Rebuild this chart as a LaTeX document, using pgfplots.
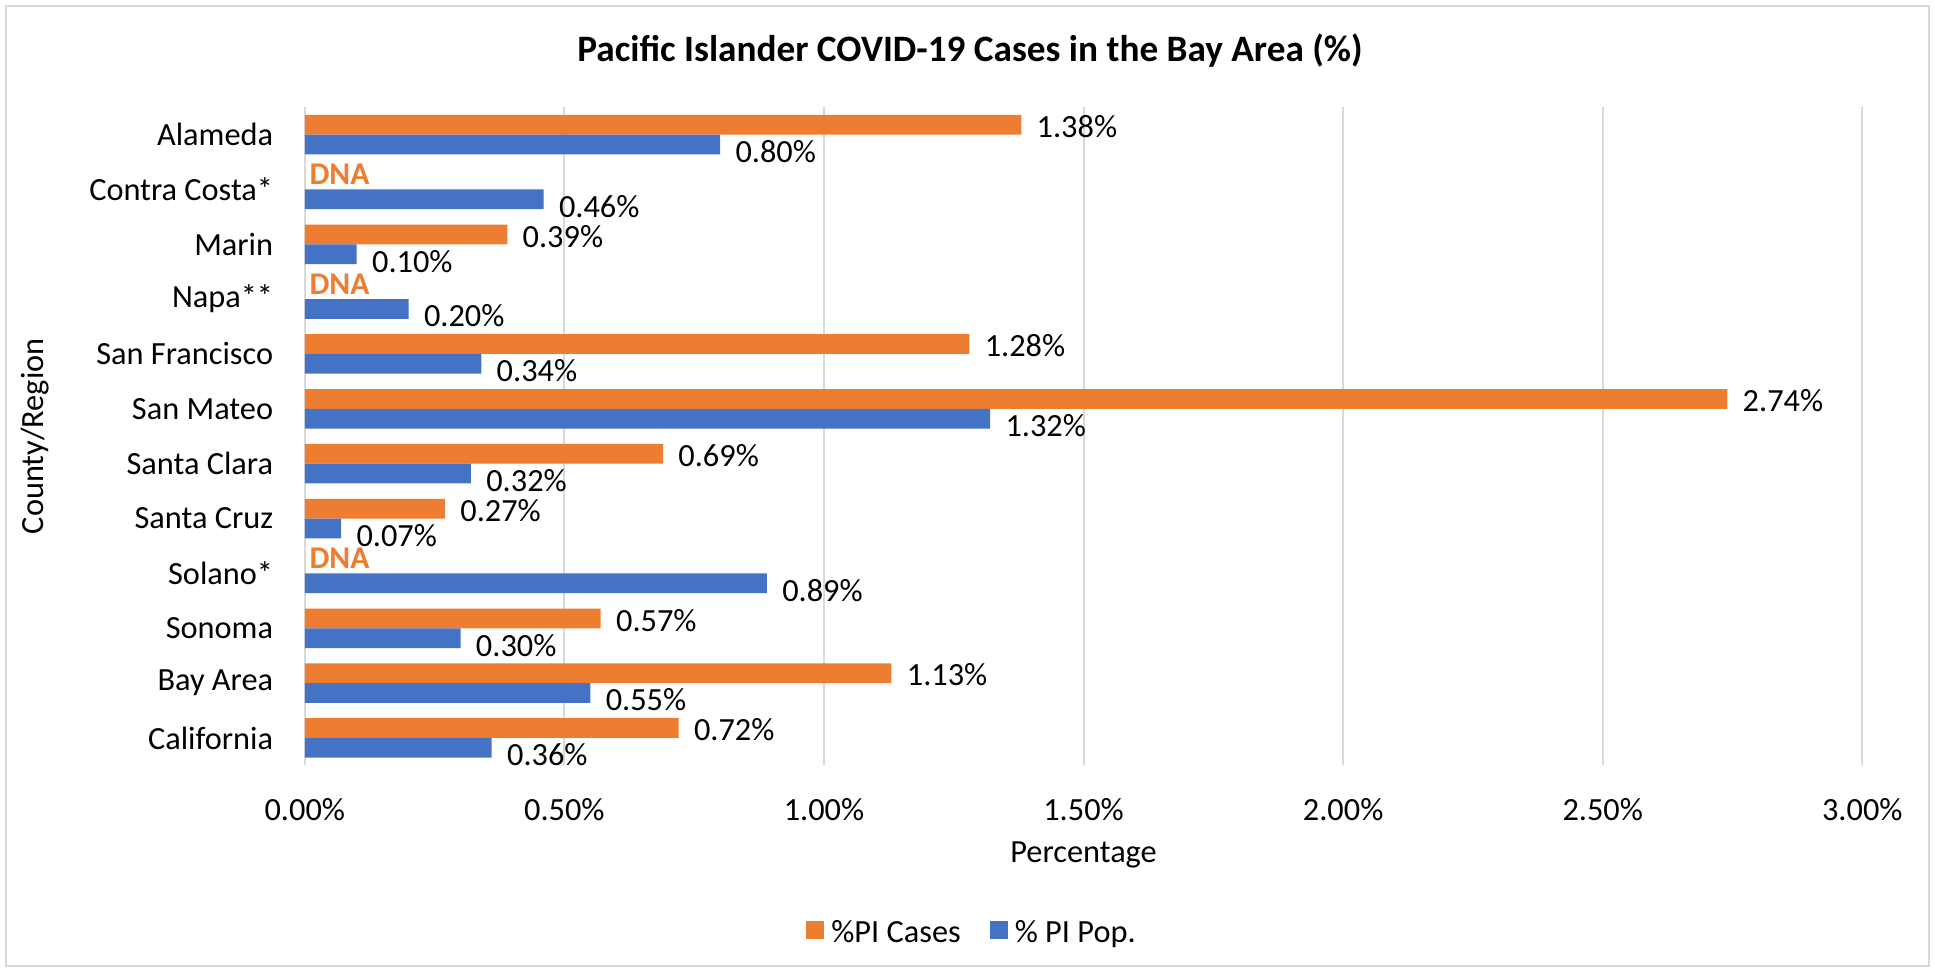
\documentclass[border=0pt]{standalone}
\usepackage{pgfplots}
\pgfplotsset{compat=1.18}
\usepackage{fontspec}
\setmainfont{Carlito}
\definecolor{xorange}{HTML}{ED7D31}
\definecolor{xblue}{HTML}{4472C4}
\definecolor{xgrid}{HTML}{D9D9D9}
\newcommand{\lbl}{\fontsize{9.2}{11}\selectfont}
\begin{document}
\begin{tikzpicture}[x=1cm,y=1cm]
  \path (0,0) rectangle (19.35,9.72);
  \draw[xgrid, line width=0.6pt] (0.06,0.06) rectangle (19.29,9.66);
  \node[font=\bfseries\fontsize{10.6}{13}\selectfont] at (9.70,9.21)
    {Pacific Islander COVID-19 Cases in the Bay Area (\%)};
  \begin{axis}[
      at={(3.048cm,2.066cm)}, anchor=south west,
      scale only axis, width=15.575cm, height=6.583cm,
      xbar, bar width=0.36,
      xmin=0, xmax=3, ymin=-0.5, ymax=11.5,
      xtick={0,0.5,1,1.5,2,2.5,3},
      xticklabel={\pgfmathprintnumber[fixed,fixed zerofill,precision=2]{\tick}\%},
      ytick={0,1,2,3,4,5,6,7,8,9,10,11},
      yticklabels={California,Bay Area,Sonoma,Solano*,Santa Cruz,Santa Clara,
        San Mateo,San Francisco,Napa**,Marin,Contra Costa*,Alameda},
      xmajorgrids, grid style={xgrid, line width=0.6pt},
      axis line style={draw=none}, major tick length=0pt,
      /pgf/number format/assume math mode=true,
      xticklabel style={font=\lbl, anchor=center, yshift=-0.44cm},
      yticklabel style={font=\lbl, anchor=east, inner sep=0pt, xshift=-0.31cm},
      xlabel={Percentage}, ylabel={County/Region},
      xlabel style={font=\lbl, at={(axis description cs:0.5,-0.1366)}, anchor=center},
      ylabel style={font=\lbl, at={(axis description cs:-0.1734,0.5)}, anchor=center},
      nodes near coords={\pgfmathprintnumber[fixed,fixed zerofill,precision=2]{\pgfplotspointmeta}\%},
      point meta=x,
      nodes near coords style={font=\lbl, xshift=0.03cm, yshift=-0.5pt},
      legend columns=2,
      legend style={at={(axis description cs:0.430,-0.2564)}, anchor=center,
        draw=none, font=\lbl,
        /tikz/every even column/.append style={column sep=0.22cm}},
      legend image code/.code={\fill[#1] (0cm,-0.05cm) rectangle (0.18cm,0.13cm);},
    ]
    \addplot[fill=xorange, draw=none, bar shift=0.18] coordinates {
      (1.38,11) (0.39,9) (1.28,7) (2.74,6) (0.69,5) (0.27,4)
      (0.57,2) (1.13,1) (0.72,0)};
    \addlegendentry{\%PI Cases}
    \addplot[fill=xblue, draw=none, bar shift=-0.18,
      nodes near coords style={yshift=-1.5pt}] coordinates {
      (0.80,11) (0.46,10) (0.10,9) (0.20,8) (0.34,7) (1.32,6) (0.32,5)
      (0.07,4) (0.89,3) (0.30,2) (0.55,1) (0.36,0)};
    \addlegendentry{\% PI Pop.}
    \foreach \yy in {10,8,3} {
      \edef\tmp{\noexpand\node[anchor=west, inner sep=0pt, xshift=0.04cm, yshift=0.05cm,
        text=xorange, font=\noexpand\bfseries\noexpand\fontsize{9}{10}\noexpand\selectfont]
        at (axis cs:0,\yy.18) {DNA};}\tmp
    }
  \end{axis}
\end{tikzpicture}
\end{document}
